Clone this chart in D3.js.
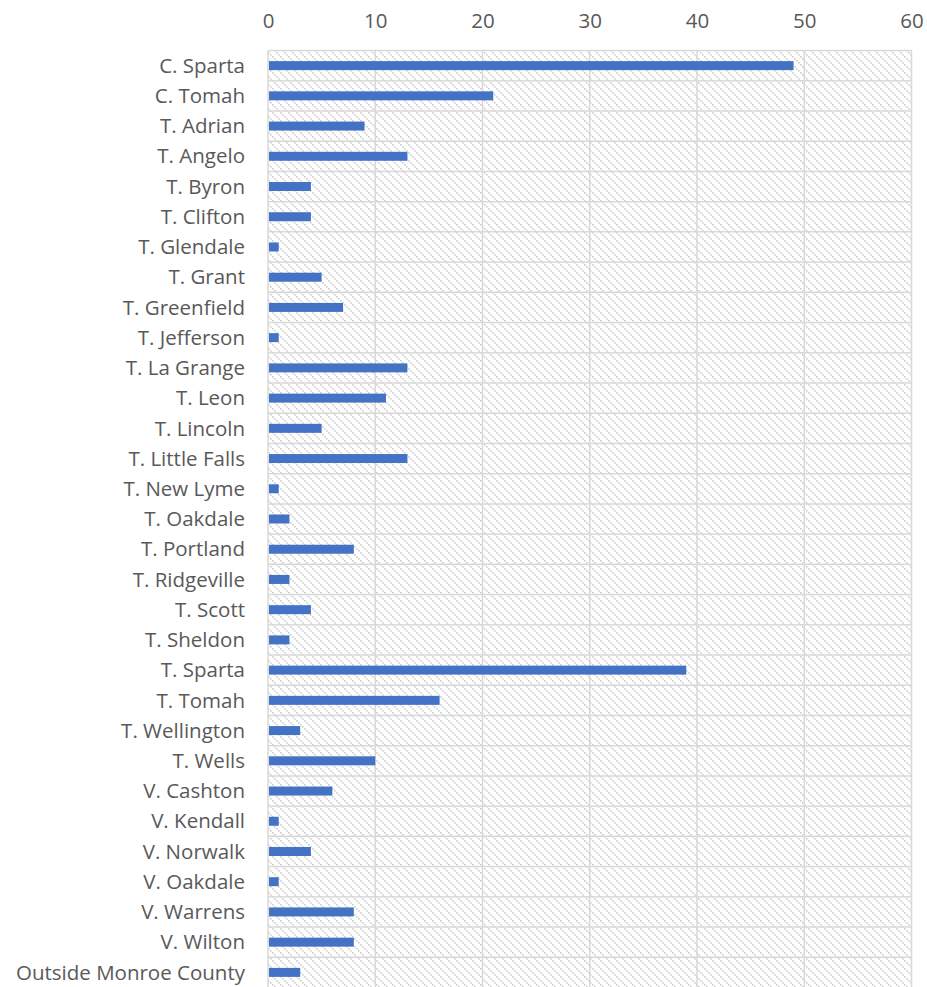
<!DOCTYPE html>
<html><head><meta charset="utf-8">
<script src="https://cdn.jsdelivr.net/npm/d3@7"></script>
<style>body{margin:0;background:#fff;} svg{display:block;}</style>
</head><body>
<script>
const categories = ["C. Sparta","C. Tomah","T. Adrian","T. Angelo","T. Byron","T. Clifton","T. Glendale","T. Grant","T. Greenfield","T. Jefferson","T. La Grange","T. Leon","T. Lincoln","T. Little Falls","T. New Lyme","T. Oakdale","T. Portland","T. Ridgeville","T. Scott","T. Sheldon","T. Sparta","T. Tomah","T. Wellington","T. Wells","V. Cashton","V. Kendall","V. Norwalk","V. Oakdale","V. Warrens","V. Wilton","Outside Monroe County"];
const values = [49,21,9,13,4,4,1,5,7,1,13,11,5,13,1,2,8,2,4,2,39,16,3,10,6,1,4,1,8,8,3];
const xTicks = [0,10,20,30,40,50,60];

const W = 927, H = 987;
const m = {left:268, top:50.5};
const svg = d3.select("body").append("svg").attr("width",W).attr("height",H);

const defs = svg.append("defs");
const pat = defs.append("pattern").attr("id","hatch").attr("patternUnits","userSpaceOnUse")
  .attr("width",8).attr("height",8);
pat.append("rect").attr("width",8).attr("height",8).attr("fill","#fff");
pat.selectAll("rect.d").data([0,2,4,6]).join("rect").attr("class","d")
  .attr("x",d=>d).attr("y",d=>d).attr("width",1.6).attr("height",1.6).attr("fill","#cccccc");

const x = d3.scaleLinear().domain([0,60]).range([m.left, 911.5]);
const yb = d3.scaleBand().domain(categories).range([m.top, H+0.5]);

svg.append("rect").attr("x",x(0)).attr("y",m.top).attr("width",x(60)-x(0)).attr("height",H-m.top+1)
  .attr("fill","url(#hatch)");

const grid = svg.append("g").attr("stroke","#d9d9d9").attr("stroke-width",1.5);
grid.selectAll("line.v").data(xTicks).join("line").attr("class","v")
  .attr("x1",d=>x(d)).attr("x2",d=>x(d)).attr("y1",m.top).attr("y2",H+2);
grid.selectAll("line.h").data(categories).join("line").attr("class","h")
  .attr("x1",x(0)).attr("x2",x(60)).attr("y1",d=>yb(d)).attr("y2",d=>yb(d));

svg.append("g").selectAll("rect").data(categories).join("rect")
  .attr("x",x(0)+1).attr("y",d=>yb(d)+yb.bandwidth()/2-4.5)
  .attr("width",(d,i)=>x(values[i])-x(0)-1).attr("height",9)
  .attr("fill","#4472C4");

const xa = svg.append("g").attr("transform",`translate(0,${m.top})`)
  .call(d3.axisTop(x).tickValues(xTicks).tickSize(0).tickPadding(0).tickFormat(d3.format("d")));
xa.select(".domain").remove();
xa.selectAll("text").attr("y",-23).attr("dy",0).attr("font-family","Open Sans, sans-serif")
  .attr("font-size",20.5).attr("fill","#595959");

const ya = svg.append("g").attr("transform",`translate(${m.left},0)`)
  .call(d3.axisLeft(yb).tickSize(0).tickPadding(23));
ya.select(".domain").remove();
ya.selectAll("text").attr("font-family","Open Sans, sans-serif").attr("font-size",20.5)
  .attr("fill","#595959").attr("dy","0.35em");
</script>
</body></html>
